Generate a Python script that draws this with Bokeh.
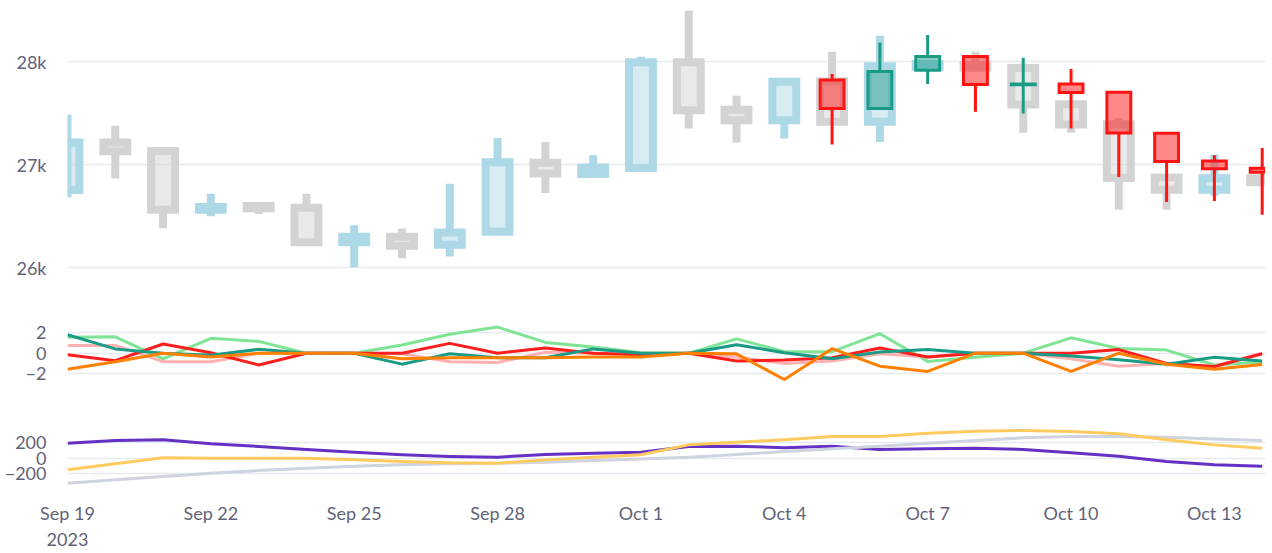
import pandas as pd
from bokeh.plotting import figure
from bokeh.layouts import column
from bokeh.models import Range1d, FixedTicker, DatetimeTickFormatter, ColumnDataSource
from bokeh.embed import file_html
from bokeh.resources import INLINE

# ---------------- data ----------------
dates = ["2023-09-19", "2023-09-20", "2023-09-21", "2023-09-22", "2023-09-23",
         "2023-09-24", "2023-09-25", "2023-09-26", "2023-09-27", "2023-09-28",
         "2023-09-29", "2023-09-30", "2023-10-01", "2023-10-02", "2023-10-03",
         "2023-10-04", "2023-10-05", "2023-10-06", "2023-10-07", "2023-10-08",
         "2023-10-09", "2023-10-10", "2023-10-11", "2023-10-12", "2023-10-13",
         "2023-10-14"]

# wide (background) candles
a_open = [26755, 27216, 27134, 26565, 26600, 26584, 26250, 26303, 26225, 26351,
          27020, 26911, 26969, 27992, 27532, 27432, 27808, 27416, 27946, 27966,
          27937, 27587, 27393, 26876, 26759, 26869]
a_high = [27487, 27377, 27134, 26720, 26639, 26720, 26413, 26383, 26817, 27260,
          27221, 27092, 28047, 28493, 27668, 27804, 28095, 28250, 28000, 28095,
          27980, 27600, 27450, 26876, 27099, 26900]
a_low = [26684, 26866, 26386, 26500, 26522, 26250, 26008, 26095, 26112, 26351,
         26726, 26911, 26969, 27351, 27215, 27254, 27416, 27221, 27930, 27900,
         27309, 27309, 26565, 26565, 26700, 26800]
a_close = [27216, 27131, 26565, 26590, 26578, 26250, 26303, 26216, 26345, 27024,
           26915, 26973, 27992, 27529, 27432, 27804, 27416, 27953, 27975, 27940,
           27584, 27390, 26872, 26759, 26869, 26830]

# narrow (foreground) candles, Oct 5 - Oct 14
b_dates = dates[16:]
b_open = [27820, 27544, 27916, 28049, 27775, 27783, 27702, 27304, 27036, 26966]
b_high = [27879, 28183, 28257, 28060, 28037, 27927, 27702, 27304, 27092, 27163]
b_low = [27196, 27530, 27782, 27513, 27497, 27351, 26882, 26639, 26649, 26516]
b_close = [27544, 27903, 28049, 27777, 27782, 27699, 27308, 27032, 26961, 26927]

# middle panel series
s_green = [1.55, 1.6, -0.55, 1.45, 1.15, 0, 0, 0.8, 1.85, 2.55, 1.05, 0.6, 0.05,
           0, 1.4, 0.15, 0.15, 1.9, -0.8, -0.4, 0, 1.5, 0.45, 0.3, -1.15, -0.85]
s_pink = [0.76, 0.76, -0.83, -0.83, 0, 0, 0, -0.06, -0.83, -0.9, 0.1, 0, 0,
          0, -0.38, -1.0, -0.76, -0.06, -0.38, 0, 0, -0.54, -1.27, -1.0, -1.3, 0]
s_red = [-0.15, -0.73, 0.9, 0.05, -1.15, 0, 0, 0, 0.96, 0, 0.5, 0, -0.15,
         0, -0.76, -0.67, -0.44, 0.51, -0.38, 0, 0, 0, 0.35, -1.0, -1.3, -0.06]
s_teal = [1.8, 0.42, 0, -0.2, 0.38, 0, 0, -1.07, -0.06, -0.44, -0.45, 0.42, 0,
          0, 0.83, 0.05, -0.55, 0.12, 0.36, 0, 0, -0.28, -0.65, -1.07, -0.4, -0.77]
s_orange = [-1.56, -0.83, 0, -0.38, 0, 0, 0, -0.54, -0.44, -0.44, -0.44, -0.38, -0.38,
            0, -0.06, -2.57, 0.44, -1.27, -1.78, 0, 0, -1.78, 0, -1.08, -1.56, -1.1]

# bottom panel series
s_purple = [196, 231, 240, 188, 153, 114, 78, 44, 22, 13, 48, 65, 78, 153, 157,
            136, 157, 114, 122, 131, 114, 70, 26, -43, -87, -104]
s_gray = [-326, -282, -239, -196, -161, -130, -104, -87, -74, -65, -52, -30, -9,
          13, 48, 87, 122, 157, 196, 231, 266, 283, 283, 274, 252, 231]
s_yellow = [-152, -74, 5, 0, 0, 0, -22, -43, -61, -65, -22, 13, 46, 174, 209,
            240, 283, 283, 327, 353, 362, 349, 318, 240, 174, 131]

x_ticks = ["2023-09-19", "2023-09-22", "2023-09-25", "2023-09-28", "2023-10-01",
           "2023-10-04", "2023-10-07", "2023-10-10", "2023-10-13"]
y1_ticks = [26000, 27000, 28000]
y1_labels = ["26k", "27k", "28k"]
y2_ticks = [-2, 0, 2]
y2_labels = ["\u22122", "0", "2"]
y3_ticks = [-200, 0, 200]
y3_labels = ["\u2212200", "0", "200"]

# ---------------- styling ----------------
FONT = "Lato"
TXT = "#5f6378"
GRID = "#e6e9f0"
W = 1265
LEFT = 67


def ms(s):
    return pd.Timestamp(s).value / 1e6


xs = [pd.Timestamp(d) for d in dates]
bxs = [pd.Timestamp(d) for d in b_dates]
x_range = Range1d(ms("2023-09-19 00:00"), ms("2023-10-14 01:40"))
HALF_DAY = 12 * 3600 * 1000


def style(p, ticks, labels):
    p.outline_line_color = None
    p.xgrid.visible = False
    p.ygrid.grid_line_color = GRID
    p.ygrid.grid_line_width = 1.5
    p.yaxis.ticker = FixedTicker(ticks=ticks)
    p.yaxis.major_label_overrides = dict(zip(ticks, labels))
    p.yaxis.axis_line_color = None
    p.yaxis.major_tick_line_color = None
    p.yaxis.minor_tick_line_color = None
    p.yaxis.major_label_standoff = 15
    p.yaxis.major_label_text_font = FONT
    p.yaxis.major_label_text_font_size = "18px"
    p.yaxis.major_label_text_color = TXT


def candles(p, x, o, h, l, c, inc, dec, lw):
    top = [max(a, b) for a, b in zip(o, c)]
    bot = [min(a, b) for a, b in zip(o, c)]
    col = [inc if cc >= oo else dec for oo, cc in zip(o, c)]
    src = ColumnDataSource(dict(x=x, top=top, bot=bot, high=h, low=l, color=col))
    p.segment(x0="x", y0="high", x1="x", y1="top", line_color="color",
              line_width=lw, source=src)
    p.segment(x0="x", y0="bot", x1="x", y1="low", line_color="color",
              line_width=lw, source=src)
    p.vbar(x="x", width=HALF_DAY, top="top", bottom="bot", fill_color="color",
           fill_alpha=0.5, line_color="color", line_width=lw,
           line_join="miter", source=src)


# ---------------- panel 1: candles ----------------
p1 = figure(width=W, height=300, x_range=x_range, y_range=Range1d(25782, 28591),
            x_axis_type=None, toolbar_location=None, output_backend="svg",
            min_border_left=LEFT, min_border_right=0, min_border_top=0,
            min_border_bottom=10, title=None)
style(p1, y1_ticks, y1_labels)
candles(p1, xs, a_open, a_high, a_low, a_close, "#add8e6", "#d3d3d3", 8)
candles(p1, bxs, b_open, b_high, b_low, b_close, "#1a9b86", "#ff1414", 3)

# ---------------- panel 2 ----------------
p2 = figure(width=W, height=102, x_range=x_range, y_range=Range1d(-3.64, 3.385),
            x_axis_type=None, toolbar_location=None, output_backend="svg",
            min_border_left=LEFT, min_border_right=0, min_border_top=18,
            min_border_bottom=12, title=None)
style(p2, y2_ticks, y2_labels)
for ys, colr in [(s_green, "#7fe495"), (s_pink, "#ffb0b0"), (s_red, "#ff1e1e"),
                 (s_teal, "#1a9b86"), (s_orange, "#ff8000")]:
    p2.line(xs, ys, line_color=colr, line_width=3, line_join="round")

# ---------------- panel 3 ----------------
p3 = figure(width=W, height=151, x_range=x_range, y_range=Range1d(-383, 597),
            x_axis_type="datetime", toolbar_location=None, output_backend="svg",
            min_border_left=LEFT, min_border_right=0, min_border_top=10,
            min_border_bottom=66, title=None)
style(p3, y3_ticks, y3_labels)
for ys, colr in [(s_purple, "#6431c4"), (s_gray, "#cfd3df"), (s_yellow, "#ffcb5e")]:
    p3.line(xs, ys, line_color=colr, line_width=3, line_join="round")

p3.xaxis.ticker = FixedTicker(ticks=[ms(t) for t in x_ticks])
fmt = "%b %-d"
p3.xaxis.formatter = DatetimeTickFormatter(
    milliseconds=fmt, seconds=fmt, minsec=fmt, minutes=fmt, hourmin=fmt,
    hours=fmt, days=fmt, months=fmt, years=fmt,
    context="%Y", context_which="start", context_location="below")
p3.xaxis.axis_line_color = None
p3.xaxis.major_tick_line_color = None
p3.xaxis.minor_tick_line_color = None
p3.xaxis.major_label_standoff = 8
p3.xaxis.major_label_text_font = FONT
p3.xaxis.major_label_text_font_size = "18px"
p3.xaxis.major_label_text_color = TXT

layout = column(p1, p2, p3, spacing=0)
open("out.html", "w").write(file_html(layout, INLINE))
